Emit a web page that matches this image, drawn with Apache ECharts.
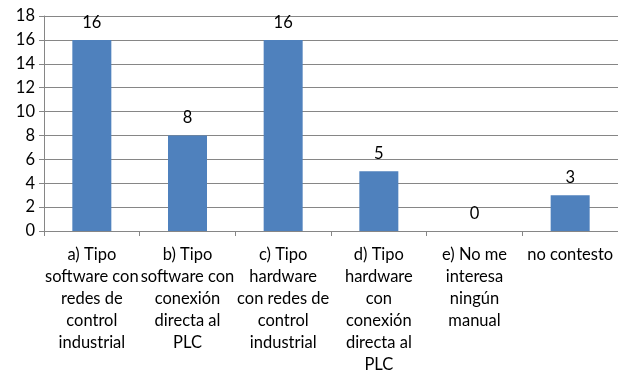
<!DOCTYPE html>
<html>
<head>
<meta charset="utf-8">
<script src="https://cdn.jsdelivr.net/npm/echarts@6/dist/echarts.min.js"></script>
<style>
  html, body { margin: 0; padding: 0; background: #fff; }
  #chart { width: 618px; height: 371px; }
</style>
</head>
<body>
<div id="chart"></div>
<script>
// Survey answers: preferred type of manual
const categories = [
  'a) Tipo\nsoftware con\nredes de\ncontrol\nindustrial',
  'b) Tipo\nsoftware con\nconexión\ndirecta al\nPLC',
  'c) Tipo\nhardware\ncon redes de\ncontrol\nindustrial',
  'd) Tipo\nhardware\ncon\nconexión\ndirecta al\nPLC',
  'e) No me\ninteresa\nningún\nmanual',
  'no contesto'
];
const counts = [16, 8, 16, 5, 0, 3];
const yTicks = { min: 0, max: 18, step: 2 };

const font = 'Lato, "Open Sans", sans-serif';
const chart = echarts.init(document.getElementById('chart'));
chart.setOption({
  animation: false,
  grid: { left: 44, right: 0, top: 16, bottom: 140, outerBoundsMode: 'none', containLabel: false },
  xAxis: {
    type: 'category',
    data: categories,
    axisLine: { lineStyle: { color: '#868686' } },
    axisTick: { show: true, length: 5, lineStyle: { color: '#868686' } },
    axisLabel: {
      interval: 0,
      color: '#000',
      fontFamily: font,
      fontSize: 16.5,
      lineHeight: 22,
      margin: 13,
      align: 'center'
    }
  },
  yAxis: {
    type: 'value',
    min: yTicks.min,
    max: yTicks.max,
    interval: yTicks.step,
    axisLine: { show: true, lineStyle: { color: '#868686' } },
    axisTick: { show: true, length: 5, lineStyle: { color: '#868686' } },
    splitLine: { lineStyle: { color: '#868686', width: 1 } },
    axisLabel: { color: '#000', fontFamily: font, fontSize: 16.5, margin: 9 }
  },
  series: [{
    type: 'bar',
    data: counts,
    barWidth: 39,
    itemStyle: { color: '#4F81BD' },
    label: {
      show: true,
      position: 'top',
      distance: 9,
      color: '#000',
      fontFamily: font,
      fontSize: 16.5
    }
  }]
});
</script>
</body>
</html>
